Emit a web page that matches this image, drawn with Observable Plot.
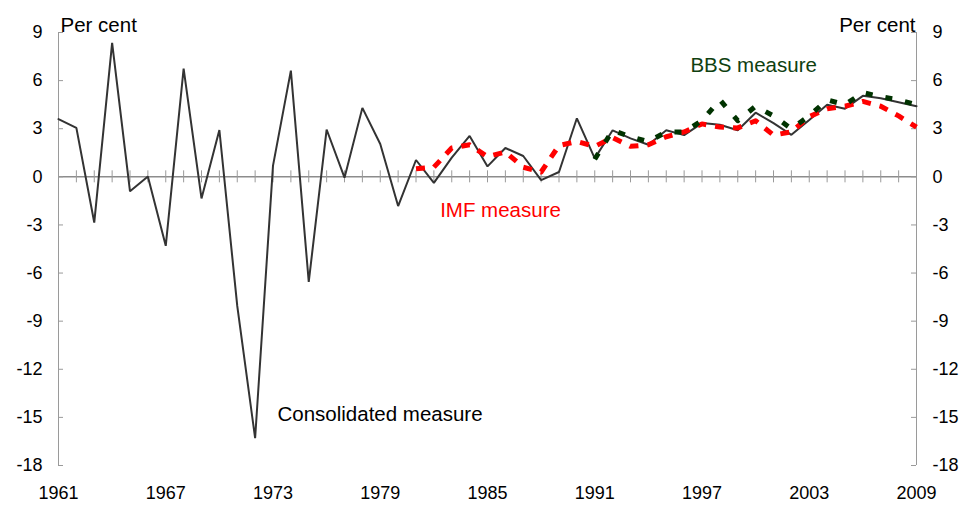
<!DOCTYPE html>
<html>
<head>
<meta charset="utf-8">
<script src="https://cdn.jsdelivr.net/npm/d3@7"></script>
<script src="https://cdn.jsdelivr.net/npm/@observablehq/plot@0.6"></script>
<style>
  html, body { margin: 0; padding: 0; background: #fff; }
</style>
</head>
<body>
<div id="chart"></div>
<script>
// Years
const years = d3.range(1961, 2010);
const xLabelYears = [1961, 1967, 1973, 1979, 1985, 1991, 1997, 2003, 2009];
const yTicks = [9, 6, 3, 0, -3, -6, -9, -12, -15, -18];

// Consolidated measure 1961-2009
const consolidated = [
  3.6, 3.05, -2.85, 8.35, -0.9, 0.02, -4.3, 6.75, -1.35, 2.92,
  -8.05, -16.3, 0.7, 6.62, -6.55, 2.95, -0.05, 4.3, 2.05, -1.82,
  1.05, -0.38, 1.2, 2.55, 0.65, 1.8, 1.3, -0.2, 0.3, 3.65,
  1.15, 2.9, 2.4, 2.0, 2.9, 2.6, 3.35, 3.25, 2.9, 4.0,
  3.35, 2.62, 3.55, 4.5, 4.25, 5.05, 4.9, 4.65, 4.4
];
// IMF measure 1981-2009
const imfYears = d3.range(1981, 2010);
const imf = [
  0.5, 0.6, 1.8, 2.0, 1.25, 1.55, 0.6, 0.3, 1.95, 2.2,
  1.9, 2.45, 1.9, 2.0, 2.5, 2.8, 3.3, 3.1, 3.05, 3.5,
  2.6, 2.8, 3.75, 4.25, 4.4, 4.7, 4.4, 3.8, 3.1
];
// BBS measure 1991-2009
const bbsYears = d3.range(1991, 2010);
const bbs = [
  1.1, 2.9, 2.5, 2.2, 2.8, 2.8, 3.5, 4.8, 3.5, 4.4,
  3.8, 3.0, 3.8, 4.8, 4.5, 5.25, 5.0, 4.8, 4.5
];

// Annotation labels (positions in data units)
const seriesLabels = [
  {text: "Consolidated measure", year: 1973.25, value: -14.8, color: "#000000"},
  {text: "IMF measure", year: 1982.35, value: -2.1, color: "#ff0000"},
  {text: "BBS measure", year: 1996.35, value: 6.95, color: "#0f4010"}
];
const unitLabel = "Per cent";

const consData = years.map((y, i) => ({year: y, value: consolidated[i]}));
const imfData = imfYears.map((y, i) => ({year: y, value: imf[i]}));
const bbsData = bbsYears.map((y, i) => ({year: y, value: bbs[i]}));
const x0 = years[0], x1 = years[years.length - 1];

const chart = Plot.plot({
  width: 965,
  height: 506,
  marginLeft: 58,
  marginRight: 49,
  marginTop: 32,
  marginBottom: 41,
  x: {domain: [x0, x1], axis: null},
  y: {domain: [d3.min(yTicks), d3.max(yTicks)], axis: null},
  style: {fontFamily: "'Liberation Sans', Arial, sans-serif", fontSize: "18px", color: "#000", background: "#fff"},
  marks: [
    // axis lines
    Plot.ruleX([x0, x1], {stroke: "#9a9a9a", strokeWidth: 1}),
    Plot.ruleY([0], {stroke: "#8c8c8c", strokeWidth: 1.5}),
    // year ticks crossing the zero line
    Plot.ruleX(years, {x: d => d, y1: 0, y2: 0, insetTop: -6, insetBottom: -6, stroke: "#9a9a9a", strokeWidth: 1}),
    // inward y ticks
    Plot.ruleY(yTicks, {y: d => d, x1: x0, x2: x0, insetRight: -5, stroke: "#9a9a9a"}),
    Plot.ruleY(yTicks, {y: d => d, x1: x1, x2: x1, insetLeft: -5, stroke: "#9a9a9a"}),
    Plot.axisY({anchor: "left", ticks: yTicks, tickSize: 0, tickPadding: 16, tickFormat: d => String(d), label: null, fontSize: 18}),
    Plot.axisY({anchor: "right", ticks: yTicks, tickSize: 0, tickPadding: 16, tickFormat: d => String(d), label: null, fontSize: 18}),
    Plot.axisX({anchor: "bottom", ticks: xLabelYears, tickSize: 0, tickPadding: 21, tickFormat: d => String(d), label: null, fontSize: 18}),
    // series
    Plot.line(consData, {x: "year", y: "value", stroke: "#333333", strokeWidth: 2, strokeLinejoin: "miter"}),
    Plot.line(imfData, {x: "year", y: "value", stroke: "#ff0000", strokeWidth: 5, strokeDasharray: "9,9", strokeLinecap: "butt"}),
    Plot.line(bbsData, {x: "year", y: "value", stroke: "#003300", strokeWidth: 5, strokeDasharray: "7,13", strokeLinecap: "butt"}),
    // labels
    Plot.text(seriesLabels, {x: "year", y: "value", text: "text", fill: "color", textAnchor: "start", lineAnchor: "middle", fontSize: 20.5}),
    Plot.text([unitLabel], {frameAnchor: "top-left", text: d => d, textAnchor: "start", lineAnchor: "middle", dx: 2, dy: -7, fontSize: 20.5}),
    Plot.text([unitLabel], {frameAnchor: "top-right", text: d => d, textAnchor: "end", lineAnchor: "middle", dx: -1, dy: -7, fontSize: 20.5})
  ]
});
document.getElementById("chart").appendChild(chart);
</script>
</body>
</html>
